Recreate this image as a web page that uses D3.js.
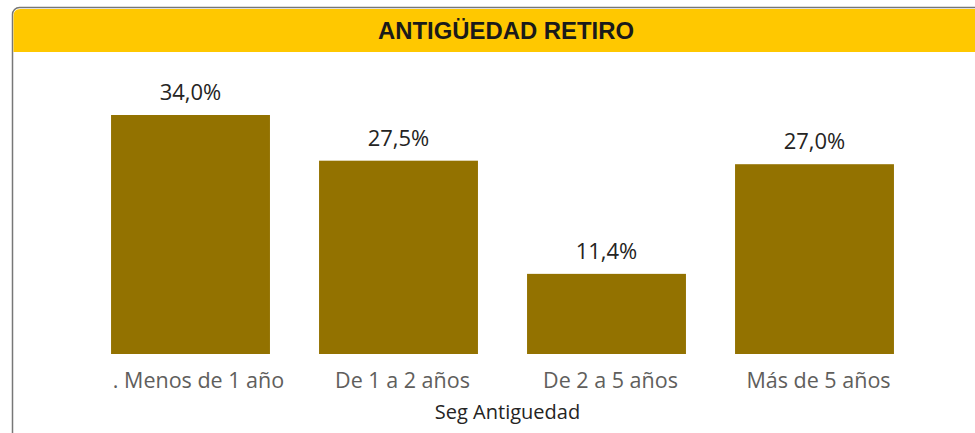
<!DOCTYPE html>
<html lang="es">
<head>
    <meta charset="UTF-8">
    <title>Antigüedad Retiro</title>
    <script src="https://d3js.org/d3.v7.min.js"></script>
    <style>
        body { margin: 0; background: #fff; }
        svg { display: block; }
        .value { font-family: "Open Sans", sans-serif; font-size: 22px; fill: #252423; }
        .cat { font-family: "Open Sans", sans-serif; font-size: 21.5px; fill: #605e5c; }
        .axis-title { font-family: "Open Sans", sans-serif; font-size: 20px; fill: #252423; }
        .title { font-family: "Liberation Sans Narrow", "Arial Narrow", "Liberation Sans", sans-serif; font-weight: bold; font-size: 23px; fill: #1a1a1a; }
    </style>
</head>
<body>
    <svg width="975" height="433"></svg>
    <script>
        const categories = [". Menos de 1 año", "De 1 a 2 años", "De 2 a 5 años", "Más de 5 años"];
        const values = [34.0, 27.5, 11.4, 27.0];
        const title = "ANTIGÜEDAD RETIRO";
        const axisTitle = "Seg Antiguedad";

        const svg = d3.select("svg");

        // panel frame (runs off the right edge like the screenshot)
        svg.append("rect")
            .attr("x", 12.5).attr("y", 7.5)
            .attr("width", 1000).attr("height", 440)
            .attr("rx", 7)
            .attr("fill", "#fff")
            .attr("stroke", "#777")
            .attr("stroke-width", 1.5);

        // yellow header band
        svg.append("path")
            .attr("d", "M13.5,52 V16 Q13.5,9 20.5,9 H1012 V52 Z")
            .attr("fill", "#ffc800");

        svg.append("text")
            .attr("class", "title")
            .attr("x", 506).attr("y", 39)
            .attr("text-anchor", "middle")
            .attr("textLength", 256)
            .attr("lengthAdjust", "spacingAndGlyphs")
            .text(title);

        const x = d3.scaleBand()
            .domain(categories)
            .range([86.5, 918.5])
            .paddingInner(0.236)
            .paddingOuter(0.118);

        const y = d3.scaleLinear()
            .domain([0, 34])
            .range([354, 115]);

        const fmt = d => d.toFixed(1).replace(".", ",") + "%";

        svg.append("g")
            .selectAll("rect")
            .data(values)
            .join("rect")
            .attr("x", (d, i) => x(categories[i]))
            .attr("y", d => y(d))
            .attr("width", x.bandwidth())
            .attr("height", d => y(0) - y(d))
            .attr("fill", "#937200");

        svg.append("g")
            .selectAll("text")
            .data(values)
            .join("text")
            .attr("class", "value")
            .attr("x", (d, i) => x(categories[i]) + x.bandwidth() / 2)
            .attr("y", d => y(d) - 15)
            .attr("text-anchor", "middle")
            .text(fmt);

        svg.append("g")
            .selectAll("text")
            .data(categories)
            .join("text")
            .attr("class", "cat")
            .attr("x", (d, i) => x(d) + x.bandwidth() / 2 + (i === 0 ? 8 : 4))
            .attr("y", 388)
            .attr("text-anchor", "middle")
            .text(d => d);

        svg.append("text")
            .attr("class", "axis-title")
            .attr("x", (x.range()[0] + x.range()[1]) / 2 + 5)
            .attr("y", 419)
            .attr("text-anchor", "middle")
            .text(axisTitle);
    </script>
</body>
</html>
